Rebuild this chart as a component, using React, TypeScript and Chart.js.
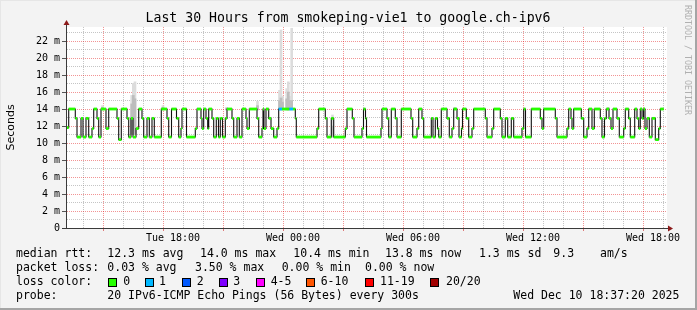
import React, { useEffect, useRef } from 'react';
import { Chart, registerables } from 'chart.js';

Chart.register(...registerables);

// ---- time axis (hours since Tue 00:00) ----
const xMinHour = 12.7;
const xMaxHour = 42.7;
const xGridHours = [13, 14, 15, 16, 17, 18, 19, 20, 21, 22, 23, 24, 25, 26, 27, 28, 29, 30, 31, 32, 33, 34, 35, 36, 37, 38, 39, 40, 41, 42];
const yMaxMs = 23.65;
const yGridMs = [0, 1, 2, 3, 4, 5, 6, 7, 8, 9, 10, 11, 12, 13, 14, 15, 16, 17, 18, 19, 20, 21, 22, 23];

// ---- median RTT (ms): start hour of each step and its value ----
const runStartHours = [
  12.700, 12.785, 13.115, 13.200, 13.400, 13.500, 13.650, 13.785, 13.950, 14.035,
  14.200, 14.285, 14.400, 14.650, 14.785, 15.200, 15.285, 15.415, 15.700, 15.785,
  15.900, 16.000, 16.150, 16.285, 16.450, 16.535, 16.700, 16.815, 16.950, 17.065,
  17.415, 17.700, 17.785, 17.925, 18.175, 18.285, 18.400, 18.450, 18.675, 19.115,
  19.200, 19.400, 19.450, 19.535, 19.650, 19.735, 19.785, 19.950, 20.035, 20.165,
  20.275, 20.365, 20.475, 20.615, 20.700, 20.950, 21.035, 21.200, 21.315, 21.450,
  21.650, 21.700, 21.815, 22.200, 22.285, 22.450, 22.500, 22.550, 22.650, 22.785,
  22.900, 23.035, 23.200, 23.285, 23.450, 23.815, 24.000, 24.115, 24.165, 25.200,
  25.285, 25.615, 25.700, 25.915, 26.035, 26.615, 26.700, 26.965, 27.050, 27.450,
  27.525, 27.625, 27.675, 28.400, 28.450, 28.700, 28.785, 28.915, 29.115, 29.200,
  29.415, 29.900, 29.985, 30.200, 30.285, 30.450, 30.535, 30.915, 31.000, 31.115,
  31.225, 31.285, 31.415, 31.700, 31.815, 31.950, 32.035, 32.200, 32.300, 32.425,
  32.475, 32.665, 32.785, 32.950, 33.035, 33.615, 33.700, 33.950, 34.035, 34.365,
  34.450, 34.615, 34.735, 34.915, 35.035, 35.450, 35.535, 35.625, 35.915, 36.365,
  36.450, 36.535, 37.115, 37.200, 37.700, 37.785, 37.900, 37.950, 38.035, 38.415,
  38.535, 38.700, 38.785, 38.950, 39.065, 39.365, 39.450, 39.575, 39.665, 39.800,
  39.900, 40.000, 40.200, 40.315, 40.535, 40.615, 40.785, 40.865, 41.085, 41.200,
  41.285, 41.365, 41.450, 41.525, 41.600, 41.700, 41.815, 41.950, 42.115, 42.285,
  42.365,
];
const runMs = [
  11.8, 14.0, 12.9, 10.7, 12.9, 10.7, 12.9, 10.7, 11.7, 14.0,
  12.9, 10.7, 14.0, 11.7, 14.0, 12.9, 10.4, 14.0, 12.9, 10.7,
  12.9, 10.7, 11.7, 14.0, 12.9, 10.7, 12.9, 10.7, 12.9, 10.7,
  14.0, 12.9, 10.7, 14.0, 12.9, 10.7, 11.7, 14.0, 10.7, 11.7,
  14.0, 12.9, 11.7, 14.0, 12.9, 11.7, 14.0, 12.9, 10.7, 12.9,
  10.7, 12.9, 10.7, 12.9, 14.0, 12.9, 10.7, 12.9, 10.7, 14.0,
  12.9, 11.7, 14.0, 12.9, 10.7, 11.7, 14.0, 11.7, 14.0, 12.9,
  11.7, 10.7, 11.7, 14.0, 14.0, 14.0, 14.0, 12.9, 10.7, 11.7,
  14.0, 12.9, 10.7, 12.9, 10.7, 11.7, 14.0, 12.9, 10.7, 11.7,
  14.0, 12.9, 10.7, 11.7, 14.0, 12.9, 10.7, 14.0, 12.9, 10.7,
  14.0, 12.9, 10.7, 11.7, 14.0, 12.9, 10.7, 12.9, 10.7, 12.9,
  11.7, 10.7, 14.0, 12.9, 10.7, 11.7, 14.0, 12.9, 10.7, 11.7,
  14.0, 12.9, 10.7, 11.7, 14.0, 12.9, 10.7, 11.7, 14.0, 12.9,
  10.7, 12.9, 10.7, 12.9, 10.7, 11.7, 14.0, 10.7, 14.0, 12.9,
  11.7, 14.0, 12.9, 10.7, 11.7, 14.0, 12.9, 11.7, 14.0, 12.9,
  10.7, 11.7, 14.0, 11.7, 14.0, 12.9, 10.7, 12.9, 14.0, 12.9,
  11.7, 14.0, 12.9, 10.7, 11.7, 14.0, 12.9, 10.7, 14.0, 12.9,
  11.7, 14.0, 12.9, 14.0, 11.7, 12.9, 10.7, 12.9, 10.4, 11.7,
  14.0,
];
const dataEndHour = 42.535;

// ---- packet loss periods (pings lost out of 20) ----
const lossStartHours = [23.285, 23.815];
const lossEndHours = [23.45, 24.0];
const lossPings = [1, 1];

// ---- smoke (ping spread) ----
const smokeHours = [14.475, 15.935, 16.015, 16.1, 17.5, 20.685, 22.225, 23.325, 23.4, 23.475, 23.685, 23.765, 23.825, 23.935, 25.975, 32.085, 39.765];
const smokeLowMs = [13.9, 11.0, 11.0, 11.0, 13.9, 13.9, 13.9, 13.9, 13.9, 13.9, 13.9, 13.9, 13.9, 13.9, 10.7, 13.9, 13.9];
const smokeMidMs = [14.2, 14.6, 15.6, 15.2, 14.2, 14.1, 14.4, 15.0, 15.3, 14.8, 15.2, 16.0, 15.0, 15.0, 12.0, 14.1, 14.1];
const smokeHighMs = [14.4, 15.6, 17.0, 17.2, 14.4, 14.2, 14.9, 16.2, 23.3, 15.5, 16.4, 17.2, 15.5, 23.5, 13.3, 14.2, 14.2];

// ---- texts ----
const titleText = 'Last 30 Hours from smokeping-vie1 to google.ch-ipv6';
const yAxisTitle = 'Seconds';
const watermark = 'RRDTOOL / TOBI OETIKER';
const dayNames = ['Tue', 'Wed'];
const rttRow = ['median rtt:', '12.3 ms avg', '14.0 ms max', '10.4 ms min', '13.8 ms now', '1.3 ms sd', '9.3', 'am/s'];
const lossRow = ['packet loss:', '0.03 % avg', '3.50 % max', '0.00 % min', '0.00 % now'];
const lossColorLabel = 'loss color:';
const lossBuckets = ['0', '1', '2', '3', '4-5', '6-10', '11-19', '20/20'];
const lossBucketColors = ['#26ff00', '#00b8ff', '#0059ff', '#7e00ff', '#ff00ff', '#ff5500', '#ff0000', '#a10000'];
const probeRow = ['probe:', '20 IPv6-ICMP Echo Pings (56 Bytes) every 300s', 'Wed Dec 10 18:37:20 2025'];

const MONO = '"DejaVu Sans Mono", monospace';

function lossColorAt(hour: number): string {
  for (let i = 0; i < lossStartHours.length; i++) {
    if (hour >= lossStartHours[i] - 1e-6 && hour < lossEndHours[i] - 1e-6) {
      return lossBucketColors[Math.min(lossPings[i], 3)];
    }
  }
  return lossBucketColors[0];
}

const tickVal = (c: any): number => (c && c.tick ? Number(c.tick.value) : NaN);

const framePlugin = {
  id: 'rrdFrame',
  beforeDraw(chart: any) {
    const { ctx, chartArea: a, width, height } = chart;
    ctx.save();
    ctx.fillStyle = '#f3f3f3';
    ctx.fillRect(0, 0, width, height);
    ctx.fillStyle = '#e6e6e6';
    ctx.fillRect(0, 0, width, 1);
    ctx.fillRect(0, 0, 1, height);
    ctx.fillStyle = '#a5a5a5';
    ctx.fillRect(width - 2, 0, 2, height);
    ctx.fillRect(0, height - 2, width, 2);
    ctx.fillStyle = '#ffffff';
    ctx.fillRect(a.left, a.top, a.right - a.left, a.bottom - a.top);
    ctx.restore();
  },
  afterDraw(chart: any) {
    const { ctx, chartArea: a } = chart;
    ctx.save();
    // axes
    ctx.fillStyle = '#3a3a3a';
    ctx.fillRect(a.left - 1, a.top - 4, 1, a.bottom - a.top + 5);
    ctx.fillRect(a.left - 5, a.bottom, a.right - a.left + 8, 1);
    ctx.fillStyle = '#8c1a1a';
    ctx.beginPath();
    ctx.moveTo(a.left - 3.5, a.top - 2);
    ctx.lineTo(a.left + 2.5, a.top - 2);
    ctx.lineTo(a.left - 0.5, a.top - 7);
    ctx.closePath();
    ctx.fill();
    ctx.beginPath();
    ctx.moveTo(a.right + 1, a.bottom - 2.5);
    ctx.lineTo(a.right + 1, a.bottom + 3.5);
    ctx.lineTo(a.right + 6, a.bottom + 0.5);
    ctx.closePath();
    ctx.fill();

    // title
    ctx.fillStyle = '#000';
    ctx.textBaseline = 'middle';
    ctx.textAlign = 'center';
    ctx.font = `13.2px ${MONO}`;
    ctx.fillText(titleText, 348, 18.5);

    // y title
    ctx.save();
    ctx.translate(10.8, (a.top + a.bottom) / 2);
    ctx.rotate(-Math.PI / 2);
    ctx.font = '11px "DejaVu Sans", sans-serif';
    ctx.fillText(yAxisTitle, 0, 0);
    ctx.restore();

    // watermark
    ctx.save();
    ctx.translate(687, 5);
    ctx.rotate(Math.PI / 2);
    ctx.textAlign = 'left';
    ctx.fillStyle = '#b0b0b0';
    ctx.font = `8.3px ${MONO}`;
    ctx.fillText(watermark, 0, 0);
    ctx.restore();

    // legend
    ctx.textAlign = 'left';
    ctx.fillStyle = '#000';
    ctx.font = `11.5px ${MONO}`;
    const rttX = [16, 107.3, 200, 293.3, 385, 479, 553.3, 600];
    rttRow.forEach((t, i) => ctx.fillText(t, rttX[i], 254.3));
    const lossX = [16, 107.3, 195, 281.7, 365];
    lossRow.forEach((t, i) => ctx.fillText(t, lossX[i], 268.3));
    ctx.fillText(lossColorLabel, 16, 282.3);
    const boxX = [108.5, 145.5, 182.5, 219.5, 256.5, 306.5, 365.5, 430.5];
    const labX = [123.3, 159, 196.7, 233.3, 270.7, 320.7, 380, 446];
    lossBuckets.forEach((t, i) => {
      ctx.fillStyle = lossBucketColors[i];
      ctx.fillRect(boxX[i], 278.5, 8, 8);
      ctx.strokeStyle = '#000';
      ctx.lineWidth = 1;
      ctx.strokeRect(boxX[i], 278.5, 8, 8);
      ctx.fillStyle = '#000';
      ctx.fillText(t, labX[i], 282.3);
    });
    const probeX = [16, 107.3, 513.3];
    probeRow.forEach((t, i) => ctx.fillText(t, probeX[i], 296.3));
    ctx.restore();
  },
};

export default function App() {
  const ref = useRef<HTMLCanvasElement>(null);
  useEffect(() => {
    document.body.style.margin = '0';
    const greenData: any[] = [];
    runStartHours.forEach((h, i) => {
      const end = i + 1 < runStartHours.length ? runStartHours[i + 1] : dataEndHour;
      greenData.push({ x: h, y: runMs[i] }, { x: end, y: runMs[i] }, { x: end, y: null });
    });
    const stepData = runStartHours.map((h, i) => ({ x: h, y: runMs[i] }));
    stepData.push({ x: dataEndHour, y: runMs[runMs.length - 1] });

    const isMajorX = (v: number) => Math.abs(v % 3) < 1e-6;
    const chart = new Chart(ref.current as HTMLCanvasElement, {
      type: 'line',
      data: {
        datasets: [
          {
            type: 'line',
            data: greenData,
            borderColor: lossBucketColors[0],
            borderWidth: 2.8,
            borderCapStyle: 'butt',
            pointRadius: 0,
            spanGaps: false,
            order: 0,
            segment: {
              borderColor: (c: any) => {
                const p = greenData[c.p0DataIndex];
                return p ? lossColorAt(p.x) : lossBucketColors[0];
              },
            },
          } as any,
          {
            type: 'line',
            data: stepData,
            borderColor: '#111111',
            borderWidth: 1.1,
            stepped: 'before',
            pointRadius: 0,
            order: 1,
          } as any,
          {
            type: 'bar',
            data: smokeHours.map((h, i) => ({ x: h, y: [smokeLowMs[i], smokeMidMs[i]] })),
            backgroundColor: '#bdbdbd',
            barThickness: 2,
            grouped: false,
            order: 2,
          } as any,
          {
            type: 'bar',
            data: smokeHours.map((h, i) => ({ x: h, y: [smokeLowMs[i], smokeHighMs[i]] })),
            backgroundColor: '#dcdcdc',
            barThickness: 2,
            grouped: false,
            order: 3,
          } as any,
        ],
      },
      options: {
        responsive: false,
        animation: false,
        devicePixelRatio: 1,
        layout: { padding: { left: 0, top: 27, right: 30, bottom: 0 } },
        plugins: { legend: { display: false }, tooltip: { enabled: false }, title: { display: false } },
        scales: {
          x: {
            type: 'linear',
            min: xMinHour,
            max: xMaxHour,
            offset: false,
            afterBuildTicks: (s: any) => {
              s.ticks = xGridHours.map((v) => ({ value: v }));
            },
            afterFit: (s: any) => {
              s.height = 82;
              s.paddingLeft = 0;
              s.paddingRight = 0;
            },
            border: { display: false, dash: [1, 1] },
            grid: {
              color: (c: any) => (isMajorX(tickVal(c)) ? 'rgba(225,0,0,0.42)' : 'rgba(140,140,140,0.5)'),
              tickColor: (c: any) => (isMajorX(tickVal(c)) ? 'rgba(200,0,0,0.5)' : 'rgba(0,0,0,0)'),
              tickLength: 3,
              lineWidth: 1,
            },
            ticks: {
              autoSkip: false,
              maxRotation: 0,
              minRotation: 0,
              padding: 1,
              color: '#000',
              font: { family: MONO, size: 10 },
              callback: (v: any) => {
                const h = Number(v);
                if (Math.abs(h % 6) > 1e-6) return '';
                const day = dayNames[Math.floor(h / 24)];
                const hh = h % 24;
                return `${day} ${String(hh).padStart(2, '0')}:00`;
              },
            },
          },
          y: {
            type: 'linear',
            min: 0,
            max: yMaxMs,
            afterBuildTicks: (s: any) => {
              s.ticks = yGridMs.map((v) => ({ value: v }));
            },
            afterFit: (s: any) => {
              s.width = 67;
              s.paddingTop = 0;
              s.paddingBottom = 0;
            },
            border: { display: false, dash: [1, 1] },
            grid: {
              color: (c: any) => (tickVal(c) % 2 === 0 ? 'rgba(225,0,0,0.42)' : 'rgba(140,140,140,0.5)'),
              tickColor: (c: any) => (tickVal(c) % 2 === 0 ? '#555' : 'rgba(0,0,0,0)'),
              tickLength: 5,
              lineWidth: 1,
            },
            ticks: {
              autoSkip: false,
              padding: 2,
              color: '#000',
              font: { family: MONO, size: 10 },
              callback: (v: any) => {
                const n = Number(v);
                if (n % 2 !== 0) return '';
                return n === 0 ? '0' : `${n} m`;
              },
            },
          },
        },
      },
      plugins: [framePlugin],
    } as any);
    return () => chart.destroy();
  }, []);
  return (
    <div style={{ width: 697, height: 310 }}>
      <canvas ref={ref} width={697} height={310} style={{ display: 'block' }} />
    </div>
  );
}
